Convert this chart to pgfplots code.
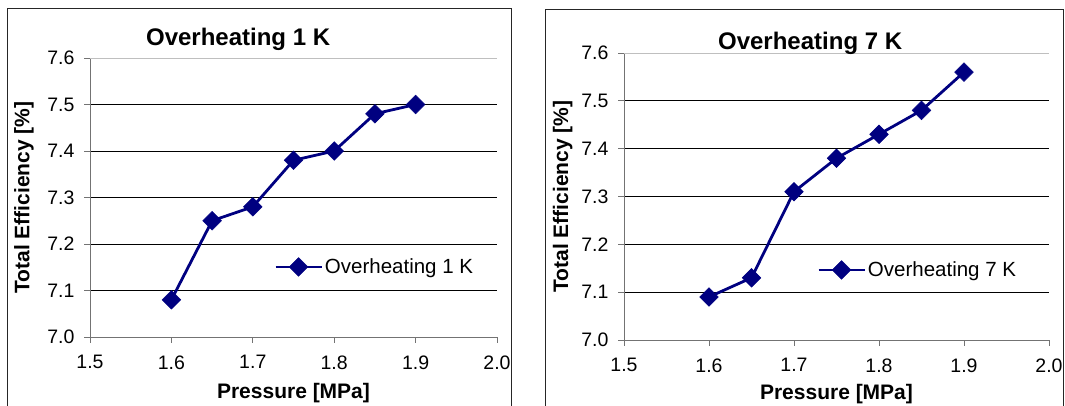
\documentclass[border=0pt]{standalone}
\usepackage{pgfplots}
\pgfplotsset{compat=1.18}
\usepackage{fontspec}
\setmainfont{Liberation Sans}
\definecolor{navy}{HTML}{000080}
\pgfplotsset{
  myax/.style={
    scale only axis,
    anchor=south west,
    xmin=1.5, xmax=2.0, ymin=7.0, ymax=7.6,
    xtick={1.5,1.6,...,2.01},
    ytick={7.0,7.1,...,7.51},
    extra y ticks={7.6},
    extra y tick style={grid style={black!25, line width=0.8pt}},
    axis lines*=left,
    axis line style={black!55, line width=0.9pt},
    tick style={black!55, line width=0.9pt},
    tick align=outside,
    major tick length=6pt,
    ymajorgrids,
    grid style={black, line width=0.7pt},
    /pgf/number format/fixed,
    /pgf/number format/fixed zerofill,
    /pgf/number format/precision=1,
    /pgf/number format/assume math mode=true,
    ticklabel style={font=\fontsize{19.5}{19.5}\selectfont},
    xticklabel style={yshift=-9pt},
    yticklabel style={xshift=-6pt},
    label style={font=\fontsize{21}{21}\selectfont\bfseries},
    title style={font=\fontsize{24}{24}\selectfont\bfseries, anchor=center},
    legend style={draw=none, fill=none, anchor=west, inner sep=0pt,
                  font=\fontsize{20.5}{20.5}\selectfont,
                  /tikz/every even column/.append style={column sep=4pt}},
    legend image code/.code={\draw[#1,mark repeat=2,mark phase=2] plot coordinates {(0pt,0pt)(23pt,0pt)(46pt,0pt)};},
    clip=false,
  },
  myline/.style={navy, line width=2.8pt, mark=square*, mark size=6.6pt,
                 mark options={rotate=45, solid, fill=navy, line width=0.5pt}},
}
\begin{document}
\begin{tikzpicture}
\useasboundingbox (0pt,0pt) rectangle (1065pt,406pt);
\draw[black!85, line width=1pt] (7pt,-5pt) -- (7pt,397pt) -- (511pt,397pt) -- (511pt,-5pt);
\draw[black!85, line width=1pt] (545pt,-5pt) -- (545pt,396pt) -- (1063pt,396pt) -- (1063pt,-5pt);

\begin{axis}[myax, at={(90pt,69pt)}, width=407pt, height=279pt,
  title={Overheating 1 K},
  title style={at={(axis description cs:0.364,1.047)}},
  xlabel={Pressure [MPa]},
  xlabel style={at={(axis description cs:0.5,-0.2)}, anchor=center},
  ylabel={Total Efficiency [\%]},
  ylabel style={at={(axis description cs:-0.162,0.5)}, anchor=center},
  legend style={at={(axis description cs:0.452,0.251)}},
]
\addplot[myline] coordinates {(1.6,7.08)(1.65,7.25)(1.7,7.28)(1.75,7.38)(1.8,7.40)(1.85,7.48)(1.9,7.50)};
\addlegendentry{Overheating 1 K}
\end{axis}

\begin{axis}[myax, at={(624pt,66pt)}, width=425pt, height=287pt,
  title={Overheating 7 K},
  title style={at={(axis description cs:0.438,1.014)}},
  xlabel={Pressure [MPa]},
  xlabel style={at={(axis description cs:0.5,-0.19)}, anchor=center},
  ylabel={Total Efficiency [\%]},
  ylabel style={at={(axis description cs:-0.144,0.5)}, anchor=center},
  legend style={at={(axis description cs:0.454,0.244)}},
]
\addplot[myline] coordinates {(1.6,7.09)(1.65,7.13)(1.7,7.31)(1.75,7.38)(1.8,7.43)(1.85,7.48)(1.9,7.56)};
\addlegendentry{Overheating 7 K}
\end{axis}
\end{tikzpicture}
\end{document}
